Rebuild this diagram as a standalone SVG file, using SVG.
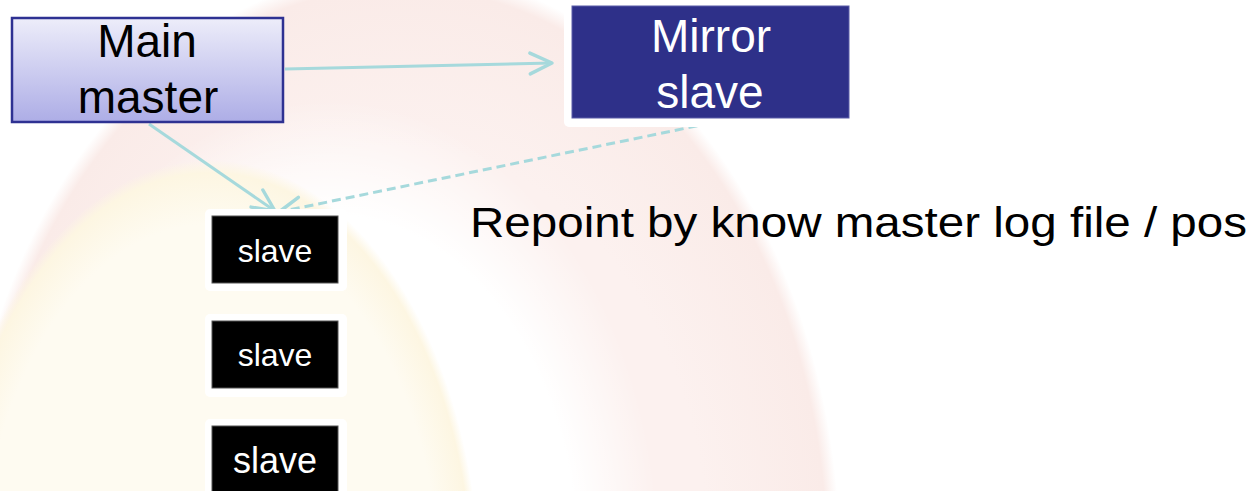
<svg xmlns="http://www.w3.org/2000/svg" width="1256" height="491" viewBox="0 0 1256 491">
  <defs>
    <linearGradient id="gMaster" x1="0" y1="0" x2="0" y2="1">
      <stop offset="0" stop-color="#EDEDFA"/>
      <stop offset="1" stop-color="#ADADE6"/>
    </linearGradient>
    <radialGradient id="gWhite" cx="0.5" cy="0.5" r="0.5">
      <stop offset="0.75" stop-color="#FFFFFF" stop-opacity="1"/>
      <stop offset="1" stop-color="#FFFFFF" stop-opacity="0"/>
    </radialGradient>
    <radialGradient id="gCream" cx="0.5" cy="0.5" r="0.5">
      <stop offset="0.85" stop-color="#FEFBF1"/>
      <stop offset="0.97" stop-color="#FDF6E2"/>
      <stop offset="1" stop-color="#FDF6E2" stop-opacity="0"/>
    </radialGradient>
    <radialGradient id="gPink" cx="0.5" cy="0.5" r="0.5">
      <stop offset="0.7" stop-color="#FCF1EF"/>
      <stop offset="0.97" stop-color="#FAEBE8"/>
      <stop offset="1" stop-color="#FAEBE8" stop-opacity="0"/>
    </radialGradient>
    <marker id="chev" markerUnits="userSpaceOnUse" markerWidth="30" markerHeight="30" viewBox="-22 -12 26 24" refX="0" refY="0" orient="auto">
      <path d="M-19,-9 L0,0 L-19,9" fill="none" stroke="#A6D9DC" stroke-width="3" stroke-linecap="round" stroke-linejoin="round"/>
    </marker>
  </defs>
  <style>
    .lbl { font-family: "Liberation Sans", Arial, sans-serif; text-anchor: middle; }
    .big { font-size: 46px; }
    .small { font-size: 32px; fill: #FFFFFF; }
    .conn { fill: none; stroke: #A6D9DC; stroke-width: 3; marker-end: url(#chev); }
    .backing { fill: #FFFFFF; }
    .slavebox { fill: #000000; stroke: #555555; stroke-width: 1; }
  </style>

  <!-- background -->
  <rect x="0" y="0" width="1256" height="491" fill="#FFFFFF"/>
  <g id="background">
    <ellipse cx="400" cy="560" rx="440" ry="590" fill="url(#gPink)"/>
    <ellipse cx="330" cy="560" rx="330" ry="460" fill="url(#gWhite)"/>
    <ellipse cx="210" cy="590" rx="270" ry="430" fill="url(#gCream)"/>
  </g>

  <!-- connectors -->
  <g id="connectors">
    <line class="conn" x1="285" y1="69" x2="552" y2="63"/>
    <line class="conn" x1="149" y1="124" x2="275" y2="211"/>
    <line class="conn" x1="711" y1="123" x2="279" y2="212" stroke-dasharray="9 5"/>
  </g>

  <!-- nodes -->
  <g id="main-master">
    <rect x="12" y="18" width="271" height="104" fill="url(#gMaster)" stroke="#2E3192" stroke-width="2.5"/>
    <text class="lbl big" x="147" y="57">Main</text>
    <text class="lbl big" x="148" y="113">master</text>
  </g>

  <g id="mirror-slave">
    <rect class="backing" x="564" y="-4" width="293" height="131" rx="5"/>
    <rect x="572" y="6" width="277" height="112" fill="#2E3089" stroke="#5A5CA8" stroke-width="1"/>
    <text class="lbl big" x="711" y="52" fill="#FFFFFF">Mirror</text>
    <text class="lbl big" x="710" y="108" fill="#FFFFFF">slave</text>
  </g>

  <g id="slave-1">
    <rect class="backing" x="205" y="209" width="142" height="82" rx="5"/>
    <rect class="slavebox" x="212" y="216" width="126" height="67"/>
    <text class="lbl small" x="275" y="262">slave</text>
  </g>

  <g id="slave-2">
    <rect class="backing" x="205" y="314" width="142" height="83" rx="5"/>
    <rect class="slavebox" x="212" y="321" width="126" height="67"/>
    <text class="lbl small" x="275" y="366">slave</text>
  </g>

  <g id="slave-3">
    <rect class="backing" x="205" y="419" width="142" height="80" rx="5"/>
    <rect class="slavebox" x="212" y="426" width="126" height="70"/>
    <text class="lbl small" x="275" y="473" style="font-size:36px">slave</text>
  </g>

  <g id="note">
    <text x="470" y="237" font-family="Liberation Sans, Arial, sans-serif" font-size="42" fill="#000000" textLength="777" lengthAdjust="spacingAndGlyphs">Repoint by know master log file / pos</text>
  </g>
</svg>
